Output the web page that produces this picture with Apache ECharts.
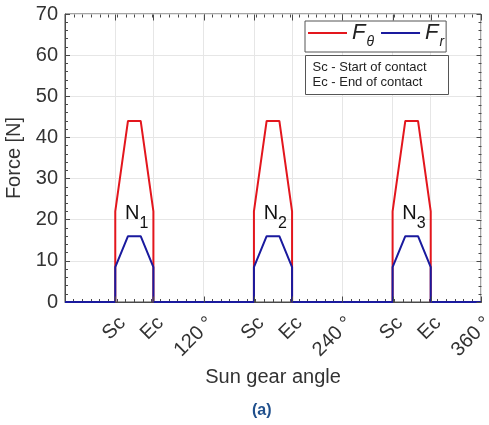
<!DOCTYPE html>
<html>
<head>
<meta charset="utf-8">
<script src="https://cdn.jsdelivr.net/npm/echarts@6/dist/echarts.min.js"></script>
<style>
  html, body {margin: 0; padding: 0; background: #fff;}
  #chart {width: 489px; height: 425px;}
</style>
</head>
<body>
<div id="chart"></div>
<script>
// ticks on the angle axis
const angleTicks = [43.5, 76.5, 120, 163.5, 196.5, 240, 283.5, 316.5, 360];
const angleTickLabels = ["Sc", "Ec", "120 °", "Sc", "Ec", "240 °", "Sc", "Ec", "360 °"];

// sun gear angle [deg] and contact forces [N]
const angle = [0, 43.5, 43.5, 54.5, 65.5, 76.5, 76.5, 163.5, 163.5, 174.5, 185.5, 196.5, 196.5, 283.5, 283.5, 294.5, 305.5, 316.5, 316.5, 360];
const forceTheta = [0, 0, 22, 44, 44, 22, 0, 0, 22, 44, 44, 22, 0, 0, 22, 44, 44, 22, 0, 0];
const forceR = [0, 0, 8.5, 16, 16, 8.5, 0, 0, 8.5, 16, 16, 8.5, 0, 0, 8.5, 16, 16, 8.5, 0, 0];

// planet labels N1..N3
const planetIdx = ["1", "2", "3"];
const planetLabelAngle = [62, 182, 302];
const planetLabelForce = [21.5, 21.5, 21.5];

const FONT = "Liberation Sans, Arial, sans-serif";
const RED = "#e3161d";
const BLUE = "#1a1a9e";
const GRID = "#e6e6e6";
const AXIS = "#4a4a4a";
const X_MINOR = 7.5;
const Y_MINOR = 2;

const chart = echarts.init(document.getElementById("chart"));

const option = {
  animation: false,
  textStyle: {fontFamily: FONT},
  grid: {
    left: 65, right: 8, top: 14, bottom: 123, outerBoundsMode: "none",
    show: true, borderColor: AXIS, borderWidth: 1, backgroundColor: "transparent",
  },
  legend: {
    data: ["Fθ", "Fr"],
    left: 305, top: 21,
    orient: "horizontal",
    icon: "rect", itemWidth: 39, itemHeight: 2, itemGap: 7,
    padding: [1, 2, 3, 3],
    borderColor: "#555", borderWidth: 1, borderRadius: 0,
    backgroundColor: "#fff",
    z: 50,
    formatter: name => "{f|F}{s|" + name.slice(1) + "}",
    textStyle: {
      rich: {
        f: {fontSize: 22, fontStyle: "italic", color: "#222", fontFamily: FONT, lineHeight: 28},
        s: {fontSize: 14, fontStyle: "italic", color: "#222", fontFamily: FONT, verticalAlign: "bottom", lineHeight: 14, padding: [0, 0, -2, 1]},
      },
    },
  },
  xAxis: {
    type: "value", min: 0, max: 360, interval: X_MINOR,
    name: "Sun gear angle", nameLocation: "middle", nameGap: 64,
    nameTextStyle: {fontSize: 20, color: "#333", fontFamily: FONT},
    axisLine: {lineStyle: {color: AXIS}},
    axisTick: {inside: true, length: 3, lineStyle: {color: AXIS}},
    axisLabel: {
      customValues: angleTicks, rotate: 45, margin: 11, verticalAlign: "top",
      fontSize: 20, color: "#333", fontFamily: FONT,
      formatter: v => angleTickLabels[angleTicks.indexOf(v)] || "",
    },
    splitLine: {show: false},
  },
  yAxis: {
    type: "value", min: 0, max: 70, interval: 10,
    name: "Force [N]", nameLocation: "middle", nameGap: 36,
    nameTextStyle: {fontSize: 20, color: "#333", fontFamily: FONT},
    axisLine: {show: true, lineStyle: {color: AXIS}},
    axisTick: {inside: true, length: 5, lineStyle: {color: AXIS}},
    minorTick: {show: true, splitNumber: 5, length: 3, lineStyle: {color: AXIS}},
    axisLabel: {fontSize: 20, color: "#333", margin: 7, fontFamily: FONT},
    splitLine: {show: true, lineStyle: {color: GRID}},
  },
  series: [
    {
      // vertical grid lines at the labelled angles
      type: "line", data: [], z: 1, silent: true,
      markLine: {
        silent: true, symbol: "none", label: {show: false}, z: 1,
        lineStyle: {color: GRID, type: "solid", width: 1},
        data: angleTicks.map(v => ({xAxis: v})),
      },
    },
    {
      name: "Fθ", type: "line", symbol: "none", z: 10,
      lineStyle: {color: RED, width: 2}, itemStyle: {color: RED},
      data: angle.map((a, i) => [a, forceTheta[i]]),
      markPoint: {
        symbol: "circle", symbolSize: 0, silent: true,
        label: {
          show: true, position: "inside",
          formatter: p => "{n|N}{s|" + p.name + "}",
          rich: {
            n: {fontSize: 20, color: "#111", fontFamily: FONT, lineHeight: 24},
            s: {fontSize: 16, color: "#111", fontFamily: FONT, verticalAlign: "bottom", lineHeight: 16, padding: [0, 0, -6, 0]},
          },
        },
        data: planetIdx.map((n, i) => ({name: n, coord: [planetLabelAngle[i], planetLabelForce[i]]})),
      },
    },
    {
      name: "Fr", type: "line", symbol: "none", z: 11,
      lineStyle: {color: BLUE, width: 2}, itemStyle: {color: BLUE},
      data: angle.map((a, i) => [a, forceR[i]]),
    },
  ],
  graphic: [
    {
      id: "contactNote", type: "group", left: 305, top: 55, z: 100,
      children: [
        {type: "rect", z: 100, shape: {x: 0, y: 0, width: 143, height: 39}, style: {fill: "#fff", stroke: "#555", lineWidth: 1}},
        {type: "text", z: 101, left: 7, top: 4, style: {text: "Sc - Start of contact\nEc - End of contact", fontSize: 13, lineHeight: 15.5, fill: "#222", fontFamily: FONT}},
      ],
    },
    {
      id: "caption", type: "text", left: 252, top: 403, z: 100,
      style: {text: "(a)", fontSize: 16, fontWeight: "bold", fill: "#1f4f8c", fontFamily: FONT},
    },
  ],
};
chart.setOption(option);

// MATLAB-style box: inside ticks on the top and right edges, longer ticks at the labelled angles
const px = v => chart.convertToPixel({xAxisIndex: 0}, v);
const py = v => chart.convertToPixel({yAxisIndex: 0}, v);
const y0 = py(0), y1 = py(70), x1 = px(360);
const tick = (xa, ya, xb, yb) => ({
  type: "line", z: 40, silent: true,
  shape: {x1: Math.round(xa) + 0.5, y1: Math.round(ya) + 0.5, x2: Math.round(xb) + 0.5, y2: Math.round(yb) + 0.5},
  style: {stroke: AXIS, fill: null, lineWidth: 1},
});
const boxTicks = [];
for (let v = 0; v <= 360; v += X_MINOR) boxTicks.push(tick(px(v), y1, px(v), y1 + 3));
angleTicks.forEach(v => {
  boxTicks.push(tick(px(v), y1, px(v), y1 + 6));
  boxTicks.push(tick(px(v), y0, px(v), y0 - 6));
});
for (let v = 0; v <= 70; v += Y_MINOR) boxTicks.push(tick(x1, py(v), x1 - (v % 10 === 0 ? 5 : 3), py(v)));

option.graphic.push({id: "boxTicks", type: "group", children: boxTicks});
chart.setOption(option, true);
</script>
</body>
</html>
